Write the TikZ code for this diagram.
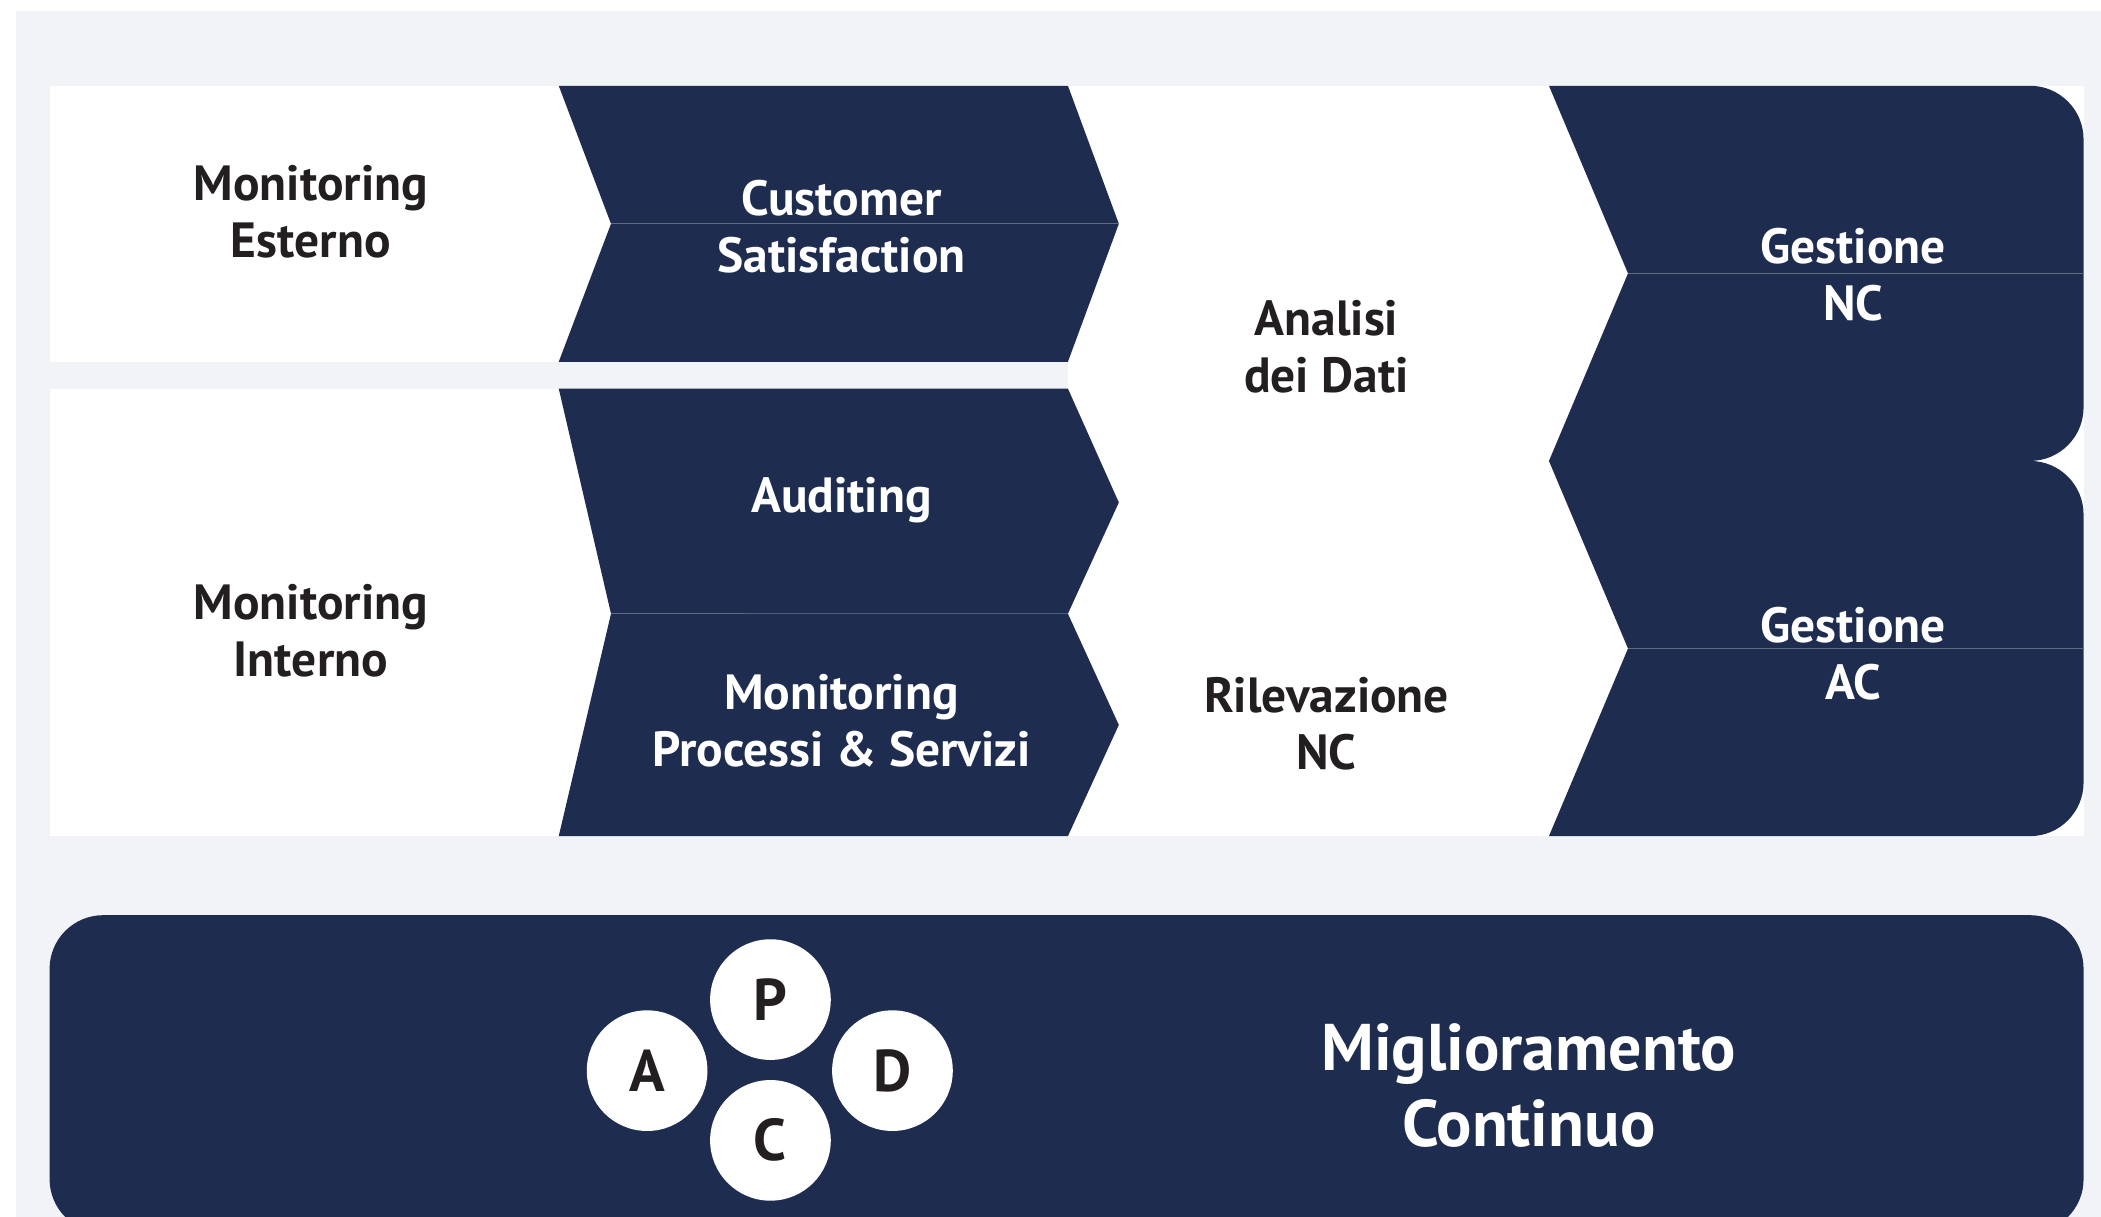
\documentclass[tikz,border=0pt]{standalone}
\usepackage{fontspec}
\setmainfont{PT Sans}
\usetikzlibrary{positioning}
\definecolor{navy}{HTML}{1E2D4F}
\definecolor{panel}{HTML}{F2F3F7}
\definecolor{ink}{HTML}{231F20}

\begin{document}
\begin{tikzpicture}[x=0.01cm,y=-0.01cm,
  dark/.style={fill=navy},
  seam/.style={draw=navy!70!white,line width=0.3pt},
  label/.style={align=center,font=\bfseries\fontsize{10.5}{12.1}\selectfont},
  onwhite/.style={label,text=ink},
  ondark/.style={label,text=white},
  letter/.style={circle,fill=white,minimum size=0.9cm,inner sep=0pt,text=ink,
    font=\bfseries\fontsize{12.5}{14}\selectfont}]
% background
\useasboundingbox (0,0) rectangle (1568,908);
\fill[white] (0,0) rectangle (1568,908);
\fill[panel] (12,8) rectangle (1568,908);
\fill[white] (37,64) rectangle (1555,624);
\fill[panel] (37,270) rectangle (797,290);

% chevrons
\fill[dark] (417,64) -- (797,64) -- (835,167) -- (797,270) -- (417,270) -- (456,167) -- cycle;
\fill[dark] (417,290) -- (797,290) -- (835,375) -- (797,458) -- (456,458) -- cycle;
\fill[dark] (456,458) -- (797,458) -- (835,541) -- (797,624) -- (417,624) -- cycle;
\fill[dark] (1156,64) -- (1515,64) arc[start angle=-90,end angle=0,radius=40]
  -- (1555,304) arc[start angle=0,end angle=90,radius=40] -- (1156,344) -- (1215,204) -- cycle;
\fill[dark] (1156,344) -- (1515,344) arc[start angle=-90,end angle=0,radius=40]
  -- (1555,584) arc[start angle=0,end angle=90,radius=40] -- (1156,624) -- (1215,484) -- cycle;
\draw[seam] (456,167) -- (835,167);
\draw[seam] (456,458) -- (556,458);
\draw[seam] (1215,204) -- (1555,204);
\draw[seam] (1215,484) -- (1555,484);

% bottom bar
\fill[dark,rounded corners=0.4cm] (37,683) rectangle (1555,920);

% labels
\node[onwhite] (est) at (232,158) {Monitoring\\Esterno};
\node[onwhite] (int) at (232,471) {Monitoring\\Interno};
\node[ondark] (cs) at (628,169) {Customer\\Satisfaction};
\node[ondark] (aud) at (628,373) {Auditing};
\node[ondark] (mps) at (628,538) {Monitoring\\Processi \& Servizi};
\node[onwhite] (dati) at (990,259) {Analisi\\dei Dati};
\node[onwhite] (ril) at (990,540) {Rilevazione\\NC};
\node[ondark] (gnc) at (1383,205) {Gestione\\NC};
\node[ondark] (gac) at (1383,488) {Gestione\\AC};

% PDCA
\node[letter] (p) at (575,746) {P};
\node[letter,on grid] (a) [below left=0.53cm and 0.92cm of p] {A};
\node[letter,on grid] (d) [below right=0.53cm and 0.91cm of p] {D};
\node[letter,on grid] (c) [below=1.05cm of p] {C};
\node[ondark,font=\bfseries\fontsize{14}{16}\selectfont] (mc) at (1141,810) {Miglioramento\\Continuo};
\end{tikzpicture}
\end{document}
